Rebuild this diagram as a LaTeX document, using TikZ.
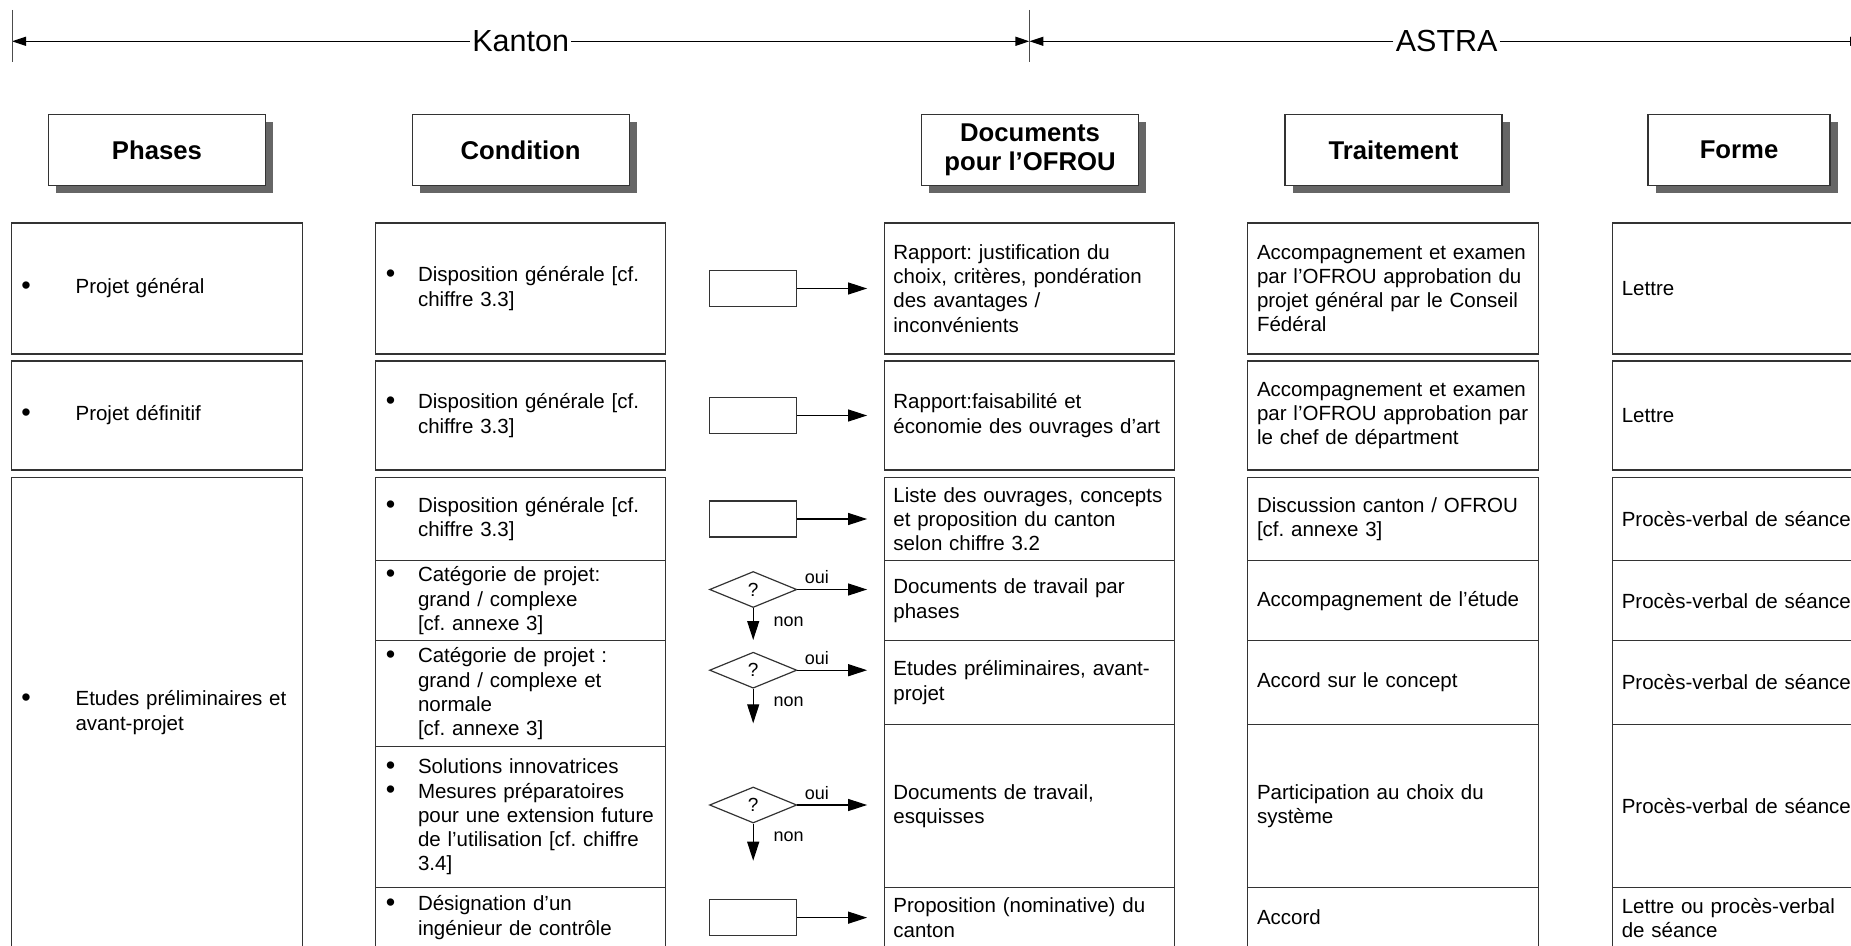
\documentclass[tikz,border=0pt]{standalone}
\usepackage{fontspec}
\setmainfont{Liberation Sans}
\usetikzlibrary{arrows.meta}
\usetikzlibrary{shapes.geometric}
\usetikzlibrary{shadows}
\frenchspacing

\newcommand\bigbul{\raisebox{-0.4pt}{\fontsize{13.5}{12}\selectfont\textbullet}}
\newcommand\phbul{\makebox[27.3pt][l]{\hspace{0.15pt}\bigbul}}
\newcommand\cobul{\makebox[16.7pt][l]{\hspace{0.6pt}\bigbul}}
\newcommand\coind{\makebox[16.7pt]{}}

\begin{document}
\begin{tikzpicture}[x=0.5pt,y=-0.5pt,
    head/.style={draw=black!80,line width=0.6pt,fill=white,minimum width=108.5pt,minimum height=35.5pt,align=center,font=\fontsize{12.85}{14.75}\selectfont\bfseries,drop shadow={shadow xshift=3.75pt,shadow yshift=-3.75pt,opacity=1,fill=black!60}},
    cell/.style={draw=black!80,line width=0.6pt,minimum width=145.2pt,text width=136pt,inner xsep=4.6pt,inner ysep=0pt,align=left,font=\fontsize{10.25}{12.1}\selectfont},
    src/.style={draw=black!80,line width=0.6pt,minimum width=43.65pt,minimum height=18pt,inner sep=0pt},
    ask/.style={diamond,draw=black!80,line width=0.6pt,minimum width=43.65pt,minimum height=18pt,inner sep=0pt,font=\fontsize{9.5}{11}\selectfont},
    lbl/.style={inner sep=0pt,font=\fontsize{9}{10.5}\selectfont},
    zone/.style={fill=white,inner sep=1pt,font=\fontsize{15.25}{18}\selectfont},
    flow/.style={-{Triangle[length=9.5pt,width=6pt]},line width=0.6pt},
    bound/.style={-{Triangle[length=7pt,width=4.5pt]},line width=0.65pt},
    tick/.style={draw=black!70,line width=0.5pt}]
    \useasboundingbox (0,0) rectangle (1851,946);
    \clip (0,0) rectangle (1851,946);

    \coordinate (tL) at (12,41.3);
    \coordinate (tM) at (1029.4,41.3);
    \coordinate (tR) at (1864,41.3);
    \node[zone] (kanton) at (520.7,41.3) {Kanton};
    \node[zone] (astra) at (1446.7,41.3) {ASTRA};
    \draw[bound] (kanton) -- (tL);
    \draw[bound] (kanton) -- (tM);
    \draw[bound] (astra) -- (tM);
    \draw[bound] (astra) -- (tR);
    \draw[tick] ([yshift=15.65pt]tL) -- ([yshift=-10.35pt]tL);
    \draw[tick] ([yshift=15.65pt]tM) -- ([yshift=-10.35pt]tM);
    \draw[tick] ([yshift=15.65pt]tR) -- ([yshift=-10.35pt]tR);

    \node[head] (hP) at (157,150) {Phases};
    \node[head] (hC) at (520.6,150) {Condition};
    \node[head] (hD) at (1030,150) {Documents\\pour l’OFROU};
    \node[head] (hT) at (1393.5,150) {Traitement};
    \node[head,minimum width=91pt] (hF) at (1739,150) {Forme};

    \node[cell,minimum height=65.5pt] (p1) at (157,288.5) {\phbul Projet général};
    \node[cell,minimum height=54.5pt] (p2) at (157,415.5) {\phbul Projet définitif};
    \node[cell,minimum height=235.35pt] (p3) at (157,712.65) {\phbul Etudes préliminaires et\\\makebox[27.3pt]{}avant-projet};

    \node[cell,minimum height=65.5pt] (c1) at (520.6,288.5) {\cobul Disposition générale [cf.\\\coind chiffre 3.3]};
    \node[cell,minimum height=54.5pt] (c2) at (520.6,415.5) {\cobul Disposition générale [cf.\\\coind chiffre 3.3]};
    \node[cell,minimum height=41.7pt] (c3) at (520.6,519) {\cobul Disposition générale [cf.\\\coind chiffre 3.3]};
    \node[cell,minimum height=40pt] (c4) at (520.6,600.7) {\cobul Catégorie de projet:\\\coind grand / complexe\\\coind [cf. annexe 3]};
    \node[cell,minimum height=53pt] (c5) at (520.6,693.7) {\cobul Catégorie de projet :\\\coind grand / complexe et\\\coind normale\\\coind [cf. annexe 3]};
    \node[cell,minimum height=70.3pt] (c6) at (520.6,817) {\cobul Solutions innovatrices\\\cobul Mesures préparatoires\\\coind pour une extension future\\\coind de l’utilisation [cf. chiffre\\\coind 3.4]};
    \node[cell,minimum height=30.35pt] (c7) at (520.6,917.65) {\cobul Désignation d’un\\\coind ingénieur de contrôle};

    \node[cell,minimum height=65.5pt] (d1) at (1029.4,288.5) {Rapport: justification du\\choix, critères, pondération\\des avantages /\\inconvénients};
    \node[cell,minimum height=54.5pt] (d2) at (1029.4,415.5) {Rapport:faisabilité et\\économie des ouvrages d’art};
    \node[cell,minimum height=41.7pt] (d3) at (1029.4,519) {Liste des ouvrages, concepts\\et proposition du canton\\selon chiffre 3.2};
    \node[cell,minimum height=40pt] (d4) at (1029.4,600.7) {Documents de travail par\\phases};
    \node[cell,minimum height=41.8pt] (d5) at (1029.4,682.5) {Etudes préliminaires, avant-\\projet};
    \node[cell,minimum height=81.5pt] (d6) at (1029.4,805.8) {Documents de travail,\\esquisses};
    \node[cell,minimum height=30.35pt] (d7) at (1029.4,917.65) {Proposition (nominative) du\\canton};

    \node[cell,minimum height=65.5pt] (t1) at (1393,288.5) {Accompagnement et examen\\par l’OFROU approbation du\\projet général par le Conseil\\Fédéral};
    \node[cell,minimum height=54.5pt] (t2) at (1393,415.5) {Accompagnement et examen\\par l’OFROU approbation par\\le chef de départment};
    \node[cell,minimum height=41.7pt] (t3) at (1393,519) {Discussion canton / OFROU\\{[}cf. annexe 3]};
    \node[cell,minimum height=40pt] (t4) at (1393,600.7) {Accompagnement de l’étude};
    \node[cell,minimum height=41.8pt] (t5) at (1393,682.5) {Accord sur le concept};
    \node[cell,minimum height=81.5pt] (t6) at (1393,805.8) {Participation au choix du\\système};
    \node[cell,minimum height=30.35pt] (t7) at (1393,917.65) {Accord};

    \node[cell,minimum height=65.5pt] (f1) at (1757.8,288.5) {Lettre};
    \node[cell,minimum height=54.5pt] (f2) at (1757.8,415.5) {Lettre};
    \node[cell,minimum height=41.7pt] (f3) at (1757.8,519) {Procès-verbal de séance};
    \node[cell,minimum height=40pt] (f4) at (1757.8,600.7) {Procès-verbal de séance};
    \node[cell,minimum height=41.8pt] (f5) at (1757.8,682.5) {Procès-verbal de séance};
    \node[cell,minimum height=81.5pt] (f6) at (1757.8,805.8) {Procès-verbal de séance};
    \node[cell,minimum height=30.35pt] (f7) at (1757.8,917.65) {Lettre ou procès-verbal\\de séance};

    \node[src] (s1) at (753.2,288.5) {};
    \node[src] (s2) at (753.2,415.5) {};
    \node[src] (s3) at (753.2,519) {};
    \node[ask] (q1) at (753.2,589.5) {?};
    \node[ask] (q2) at (753.2,670.2) {?};
    \node[ask] (q3) at (753.2,805) {?};
    \node[src] (s4) at (753.2,917.65) {};
    \coordinate (e1) at (753.2,640);
    \coordinate (e2) at (753.2,723.3);
    \coordinate (e3) at (753.2,860.7);

    \draw[flow,shorten >=8.25pt] (s1) -- (s1 -| d1.west);
    \draw[flow,shorten >=8.25pt] (s2) -- (s2 -| d2.west);
    \draw[flow,shorten >=8.25pt] (s3) -- (s3 -| d3.west);
    \draw[flow,shorten >=8.25pt] (q1) -- (q1 -| d4.west);
    \draw[flow,shorten >=8.25pt] (q2) -- (q2 -| d5.west);
    \draw[flow,shorten >=8.25pt] (q3) -- (q3 -| d6.west);
    \draw[flow,shorten >=8.25pt] (s4) -- (s4 -| d7.west);
    \draw[flow] (q1) -- (e1);
    \draw[flow] (q2) -- (e2);
    \draw[flow] (q3) -- (e3);
    \node[lbl,anchor=base west] (o1) at ([xshift=3.5pt,yshift=2.9pt]q1.east) {oui};
    \node[lbl,anchor=base west] (o2) at ([xshift=3.5pt,yshift=2.9pt]q2.east) {oui};
    \node[lbl,anchor=base west] (o3) at ([xshift=3.5pt,yshift=2.9pt]q3.east) {oui};
    \node[lbl,anchor=base west] (n1) at ([xshift=10pt,yshift=-9pt]q1.south) {non};
    \node[lbl,anchor=base west] (n2) at ([xshift=10pt,yshift=-9pt]q2.south) {non};
    \node[lbl,anchor=base west] (n3) at ([xshift=10pt,yshift=-9pt]q3.south) {non};
\end{tikzpicture}
\end{document}
